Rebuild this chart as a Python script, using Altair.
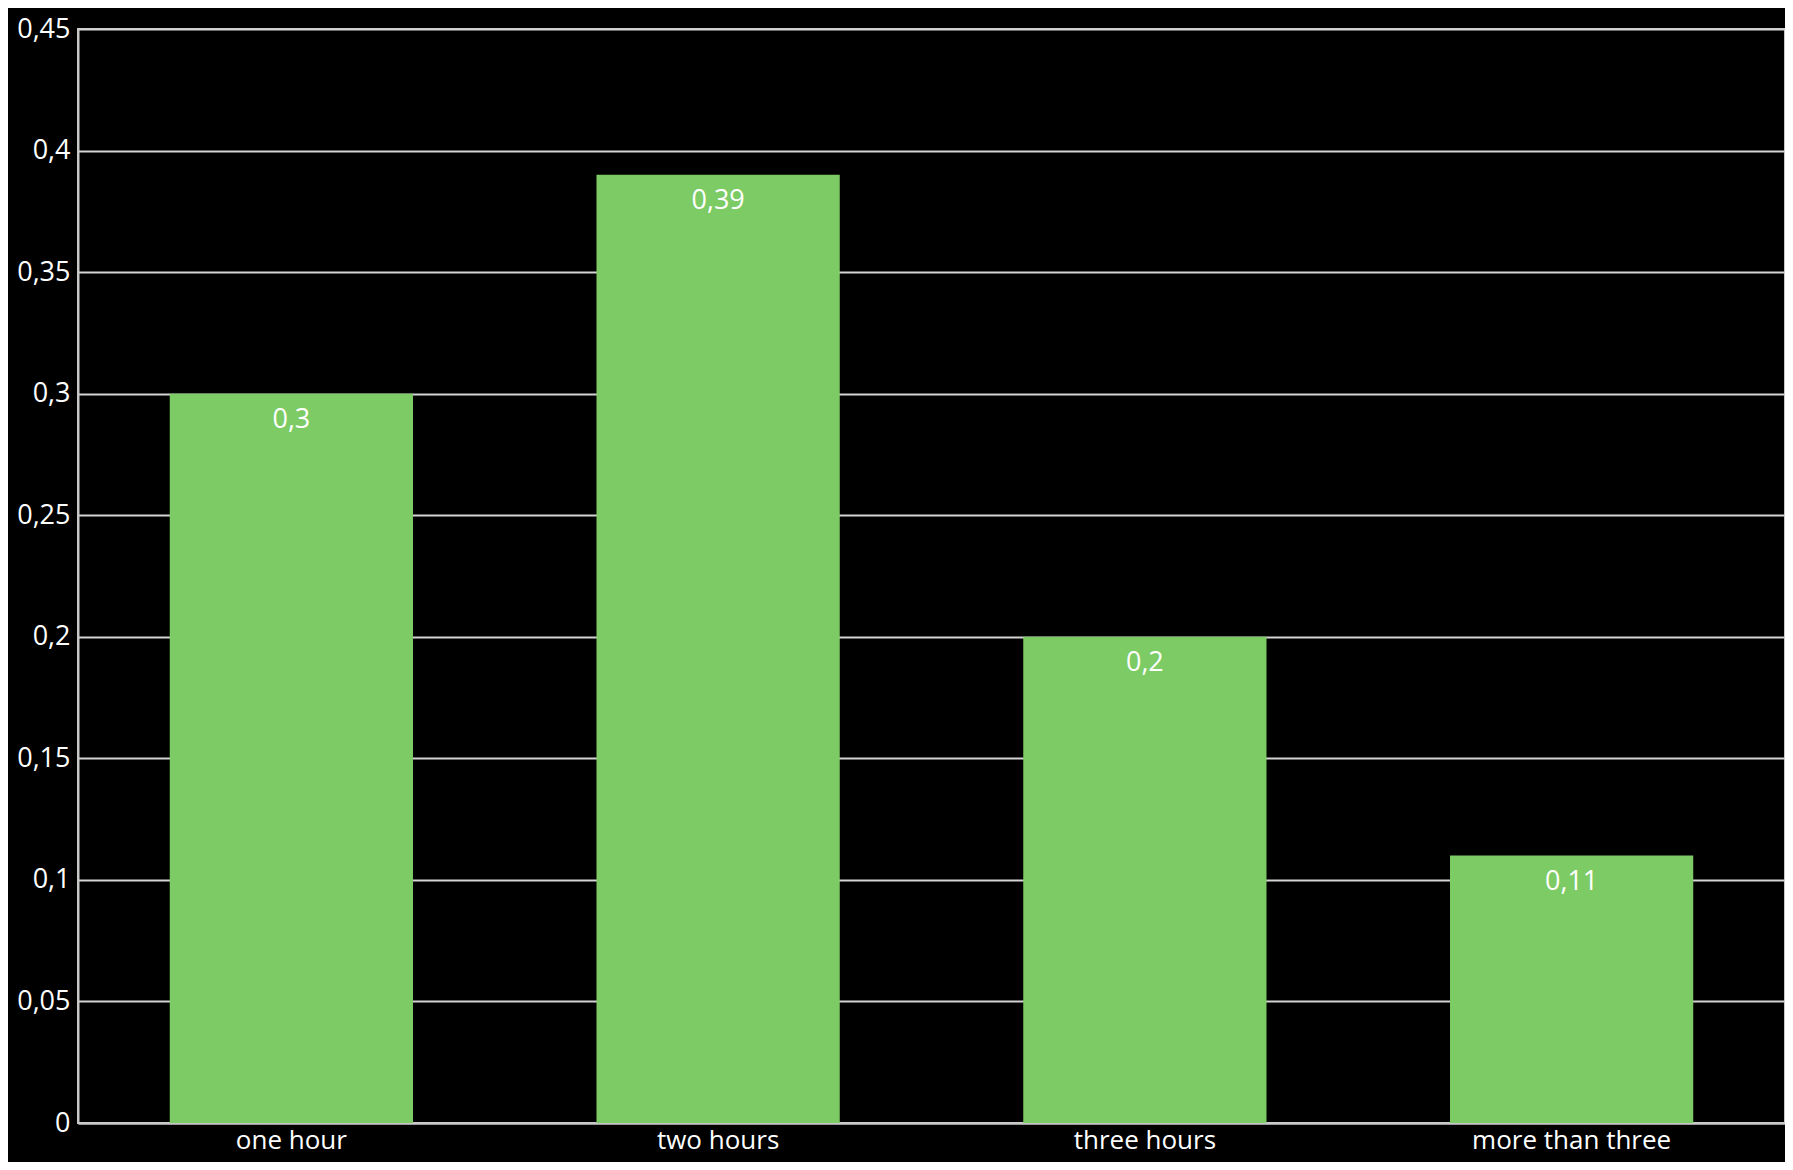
import altair as alt
import pandas as pd

categories = ["one hour", "two hours", "three hours", "more than three"]
values = [0.3, 0.39, 0.2, 0.11]
y_ticks = [0, 0.05, 0.1, 0.15, 0.2, 0.25, 0.3, 0.35, 0.4, 0.45]

df = pd.DataFrame({"category": categories, "value": values})

FONT = "Open Sans"

base = alt.Chart(df).transform_calculate(
    label="replace(toString(datum.value), '.', ',')"
)

x_enc = alt.X(
    "category:N",
    sort=categories,
    title=None,
    scale=alt.Scale(paddingInner=0.43, paddingOuter=0.215),
    axis=alt.Axis(
        labelAngle=0,
        labelColor="white",
        labelFont=FONT,
        labelFontSize=26,
        labelPadding=4,
        labelLimit=0,
        ticks=False,
        domainColor="#c8c8c8",
        domainWidth=2,
        grid=False,
    ),
)

bars = base.mark_bar(color="#7CCB64").encode(
    x=x_enc,
    y=alt.Y(
        "value:Q",
        title=None,
        scale=alt.Scale(domain=[0, 0.45], nice=False),
        axis=alt.Axis(
            values=y_ticks,
            labelExpr="replace(toString(datum.value), '.', ',')",
            labelColor="white",
            labelFont=FONT,
            labelFontSize=27,
            labelPadding=8,
            ticks=False,
            domainColor="#c8c8c8",
            domainWidth=2,
            grid=True,
            gridColor="#d4d4d4",
            gridWidth=2,
        ),
    ),
)

text = base.mark_text(
    color="white", font=FONT, fontSize=27, baseline="middle", dy=26
).encode(
    x=alt.X("category:N", sort=categories),
    y="value:Q",
    text="label:N",
)

chart = (
    alt.layer(bars, text)
    .properties(
        width=1707,
        height=1094,
        background="black",
        padding={"left": 70, "top": 21, "right": 0, "bottom": 39},
        autosize=alt.AutoSizeParams(type="none"),
    )
    .configure_view(stroke="#c8c8c8", strokeWidth=2)
)

chart.save("out.html", embed_options={"renderer": "svg", "actions": False})
